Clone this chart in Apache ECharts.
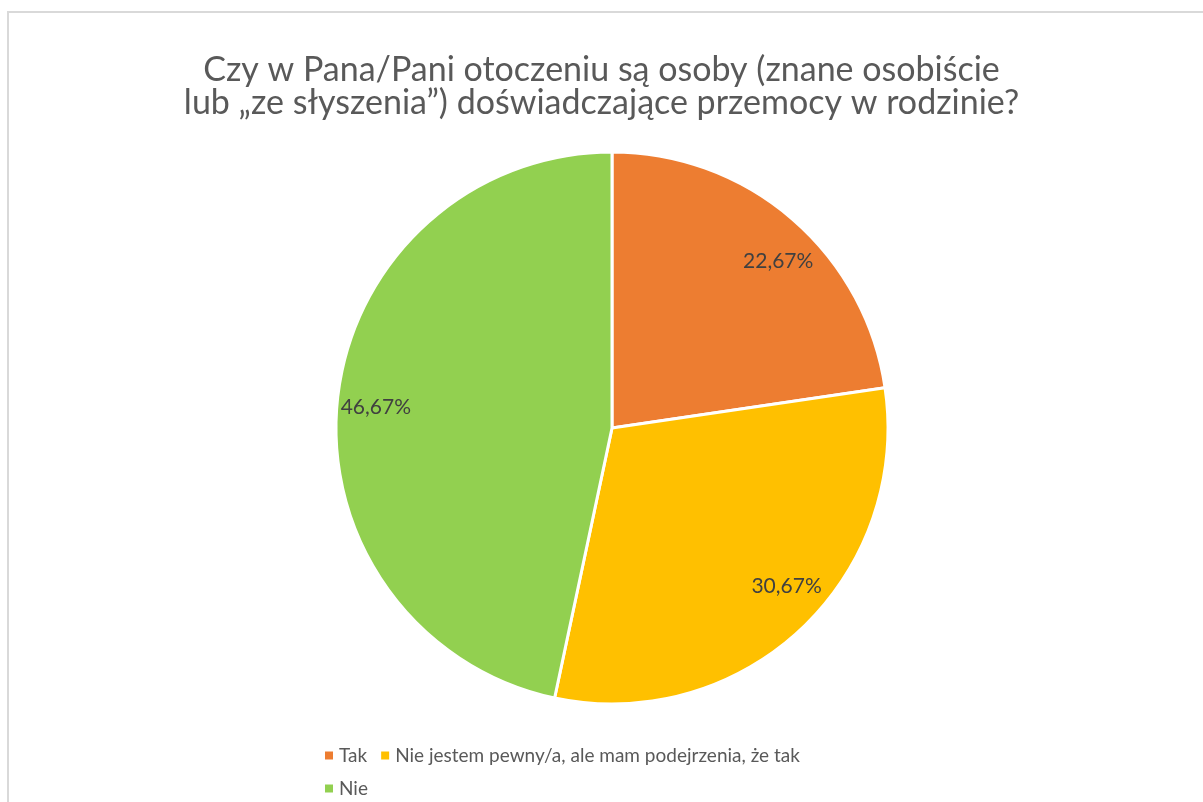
<!DOCTYPE html>
<html>
<head>
<meta charset="utf-8">
<script src="https://cdn.jsdelivr.net/npm/echarts@6/dist/echarts.min.js"></script>
<style>html,body{margin:0;padding:0;background:#fff}#c{width:1203px;height:802px}</style>
</head>
<body>
<div id="c"></div>
<script>
const titleText = 'Czy w Pana/Pani otoczeniu są osoby (znane osobiście\nlub „ze słyszenia”) doświadczające przemocy w rodzinie?';
const categories = ['Tak', 'Nie jestem pewny/a, ale mam podejrzenia, że tak', 'Nie'];
const values = [22.67, 30.67, 46.67];
const colors = ['#ED7D31', '#FFC000', '#92D050'];
// label nudges (styling only)
const labelOffsets = [[11, 13], [12, -15], [0, 4]];

const data = categories.map((c, i) => ({ name: c, value: values[i], itemStyle: { color: colors[i] } }));
const fmt = p => p.value.toFixed(2).replace('.', ',') + '%';
const FONT = 'Lato, "Open Sans", sans-serif';

const chart = echarts.init(document.getElementById('c'), null, { renderer: 'canvas' });
chart.setOption({
  animation: false,
  backgroundColor: '#fff',
  graphic: [{
    type: 'rect', silent: true, z: -1,
    shape: { x: 8, y: 12, width: 1400, height: 1000 },
    style: { fill: 'none', stroke: '#d9d9d9', lineWidth: 2 }
  }],
  title: {
    text: titleText,
    left: 'center', top: 49,
    textStyle: { fontFamily: FONT, fontSize: 34, fontWeight: 'normal', color: '#595959', lineHeight: 33 }
  },
  legend: {
    data: categories,
    left: 318, top: 740, width: 530,
    orient: 'horizontal',
    itemWidth: 10, itemHeight: 10, itemGap: 12,
    icon: 'rect',
    textStyle: { fontFamily: FONT, fontSize: 19, color: '#595959', lineHeight: 21 }
  },
  series: [{
    type: 'pie',
    center: [612, 428], radius: [0, 276],
    startAngle: 90, clockwise: true,
    data: data,
    itemStyle: { borderColor: '#fff', borderWidth: 3 },
    label: { show: false }, labelLine: { show: false },
    emphasis: { disabled: true }
  }, {
    type: 'pie',
    center: [612, 428], radius: [193, 276],
    startAngle: 90, clockwise: true,
    data: data.map((d, i) => ({ name: d.name, value: d.value, itemStyle: { color: 'rgba(0,0,0,0)' }, label: { offset: labelOffsets[i] } })),
    itemStyle: { borderWidth: 0 },
    label: { show: true, position: 'inside', formatter: fmt, fontFamily: FONT, fontSize: 21, color: '#404040' },
    labelLine: { show: false },
    emphasis: { disabled: true },
    silent: true
  }]
});
</script>
</body>
</html>
